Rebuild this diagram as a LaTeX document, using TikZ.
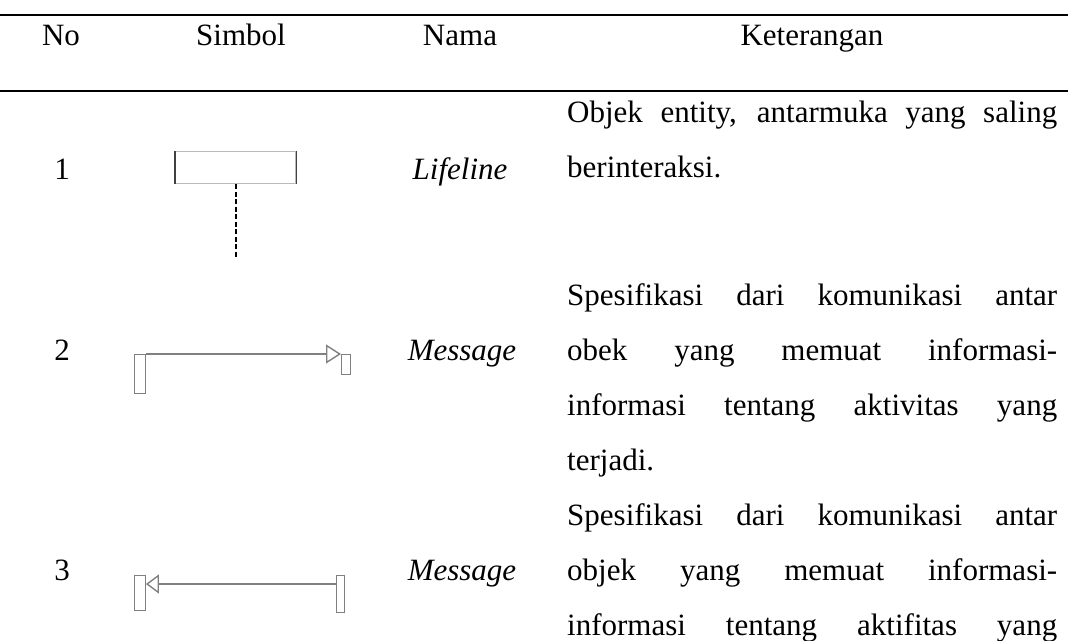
\documentclass[tikz,border=0pt]{standalone}
\usepackage{fontspec}
\setmainfont{Liberation Serif}
\usetikzlibrary{arrows.meta}

\begin{document}
\begin{tikzpicture}[x=1pt,y=-1pt,
  txt/.style={font=\fontsize{31}{55}\selectfont, inner sep=0pt, anchor=base},
  ket/.style={font=\fontsize{31}{55}\selectfont, inner sep=0pt, anchor=north west,
    text width=490pt, align=justify, execute at begin node={\tolerance=10000\hyphenpenalty=10000}},
  rule/.style={line width=2.2pt},
  bar/.style={draw=gray, line width=0.9pt, fill=white, inner sep=0pt, anchor=north west},
  msg/.style={draw=gray, line width=1.4pt, -{Triangle[open, length=15pt, width=19pt]}}]
\useasboundingbox (0,0) rectangle (1068,640);
\draw[rule] (0,15) -- (1068,15);
\draw[rule] (0,91) -- (1068,91);
\node[txt] (hno) at (61,45) {No};
\node[txt] (hsim) at (241,45) {Simbol};
\node[txt] (hnama) at (460,45) {Nama};
\node[txt] (hket) at (812,45) {Keterangan};
% baris 1
\node[txt] (no1) at (62,179) {1};
\node[draw=gray!55, line width=1.4pt, minimum width=120pt, minimum height=32pt, inner sep=0pt, anchor=north west] (life) at (175,151) {};
\draw[black!75, line width=1.6pt] (life.north west) -- (life.south west) (life.north east) -- (life.south east);
\coordinate (lifeend) at (234,258);
\draw[line width=1.8pt, dash pattern=on 5pt off 2.5pt] (life.south) -- (life.south |- lifeend);
\node[txt] (nama1) at (460,179) {\textit{Lifeline}};
\node[ket] (ket1) at (567,83.5) {\strut Objek entity, antarmuka yang saling\linebreak berinteraksi.};
% baris 2
\node[txt] (no2) at (62,360) {2};
\node[bar, minimum width=11pt, minimum height=39pt] (m2a) at (134,354) {};
\node[bar, minimum width=9pt, minimum height=20pt] (m2b) at (341,354) {};
\draw[msg] (m2a.north east) -- (m2b.north west);
\node[txt] (nama2) at (462,360) {\textit{Message}};
\node[ket] (ket2) at (567,266.5) {\strut Spesifikasi dari komunikasi antar\linebreak obek yang memuat informasi-\linebreak informasi tentang aktivitas yang\linebreak terjadi.};
% baris 3
\node[txt] (no3) at (62,580) {3};
\node[bar, minimum width=11pt, minimum height=35pt] (m3a) at (134,575) {};
\node[bar, minimum width=8pt, minimum height=37pt] (m3b) at (336,575) {};
\draw[msg, -{Triangle[open, length=13pt, width=19pt]}] ([yshift=-9pt]m3b.north west) -- ([yshift=-9pt]m3a.north east);
\node[txt] (nama3) at (462,580) {\textit{Message}};
\node[ket] (ket3) at (567,486.5) {\strut Spesifikasi dari komunikasi antar\linebreak objek yang memuat informasi-\linebreak informasi tentang aktifitas yang\parfillskip=0pt\par};
\end{tikzpicture}
\end{document}
